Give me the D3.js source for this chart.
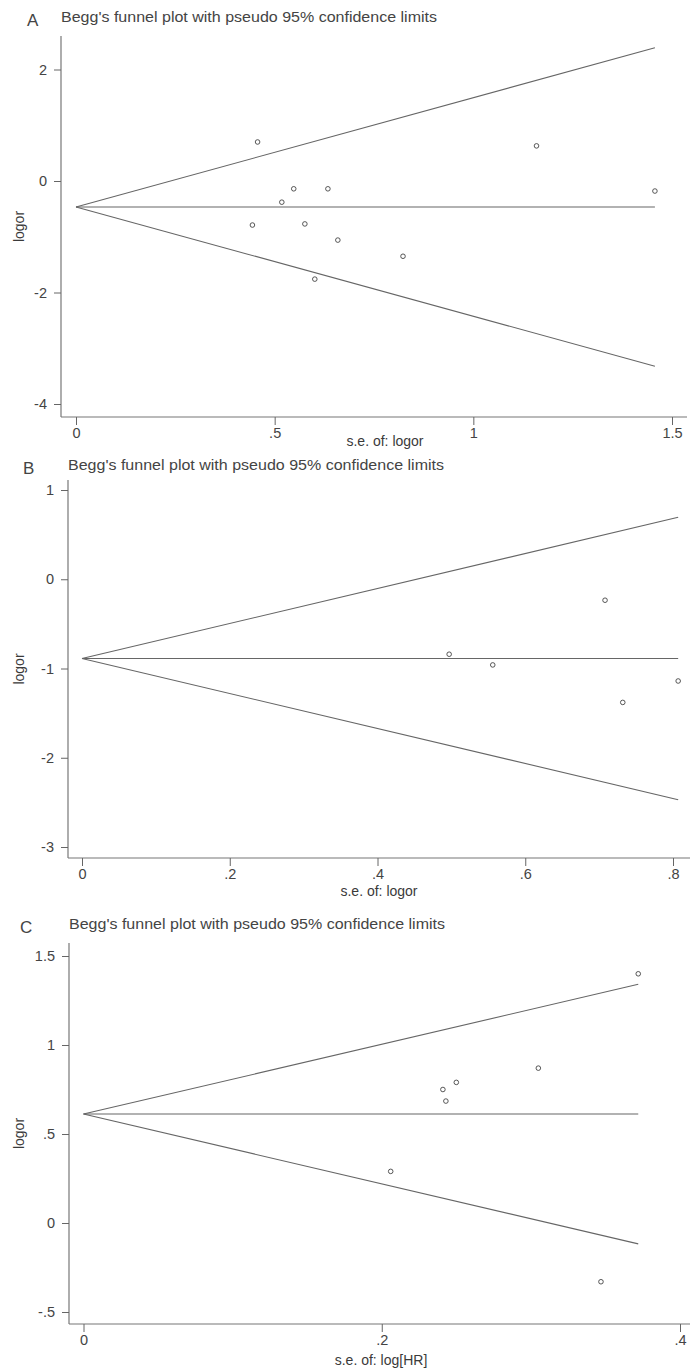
<!DOCTYPE html>
<html>
<head>
<meta charset="utf-8">
<script src="https://cdn.jsdelivr.net/npm/d3@7"></script>
<style>
  body { margin: 0; background: #fff; }
  svg text { font-family: "Liberation Sans Narrow", "Liberation Sans", Arial, sans-serif; fill: #3a3a3a; }
</style>
</head>
<body>
<div id="chart"></div>
<script>
// panel A: s.e. of logor vs logor
var seA = [0.457, 0.444, 0.548, 0.518, 0.634, 0.576, 0.601, 0.659, 0.823, 1.159, 1.457];
var logorA = [0.70, -0.79, -0.14, -0.38, -0.14, -0.77, -1.76, -1.06, -1.35, 0.63, -0.18];
var pooledA = -0.466;
var xTicksA = [0, 0.5, 1, 1.5];
var yTicksA = [-4, -2, 0, 2];

// panel B
var seB = [0.497, 0.556, 0.708, 0.732, 0.807];
var logorB = [-0.84, -0.96, -0.235, -1.38, -1.14];
var pooledB = -0.888;
var xTicksB = [0, 0.2, 0.4, 0.6, 0.8];
var yTicksB = [-3, -2, -1, 0, 1];

// panel C: s.e. of log[HR]
var seC = [0.372, 0.305, 0.250, 0.241, 0.243, 0.206, 0.347];
var logorC = [1.40, 0.87, 0.79, 0.75, 0.685, 0.29, -0.33];
var pooledC = 0.612;
var xTicksC = [0, 0.2, 0.4];
var yTicksC = [-0.5, 0, 0.5, 1, 1.5];

var title = "Begg's funnel plot with pseudo 95% confidence limits";

var svg = d3.select('#chart').append('svg')
    .attr('width', 697)
    .attr('height', 1371);

// stata style numbers: .5 instead of 0.5
var stataFmt = function(d) {
  var s = String(+d.toFixed(2));
  return s.replace(/^0\./, '.').replace(/^-0\./, '-.');
};

function drawPanel(p) {
  var x = d3.scaleLinear().domain(p.xDom).range(p.xRange);
  var y = d3.scaleLinear().domain(p.yDom).range(p.yRange);
  var g = svg.append('g');

  g.append('text').attr('x', p.letterX).attr('y', p.titleY + 4)
      .style('font-family', '"Liberation Sans", Arial, sans-serif')
      .style('font-size', '17px').style('fill', '#444').text(p.letter);
  g.append('text').attr('x', p.left).attr('y', p.titleY)
      .style('font-size', '15px').style('fill', '#444')
      .attr('textLength', 376).attr('lengthAdjust', 'spacingAndGlyphs')
      .text(title);

  // axis lines
  g.append('line').attr('x1', p.left).attr('x2', p.left)
      .attr('y1', p.top).attr('y2', p.bottom)
      .attr('stroke', '#777').attr('stroke-width', 1.2);
  g.append('line').attr('x1', p.left).attr('x2', p.right)
      .attr('y1', p.bottom).attr('y2', p.bottom)
      .attr('stroke', '#777').attr('stroke-width', 1.2);

  var ya = g.append('g').attr('transform', 'translate(' + p.left + ',0)')
      .call(d3.axisLeft(y).tickValues(p.yTicks).tickSize(7).tickPadding(7).tickFormat(stataFmt));
  var xa = g.append('g').attr('transform', 'translate(0,' + p.bottom + ')')
      .call(d3.axisBottom(x).tickValues(p.xTicks).tickSize(8).tickPadding(3).tickFormat(stataFmt));
  [ya, xa].forEach(function(a) {
    a.select('.domain').remove();
    a.selectAll('line').attr('stroke', '#666');
    a.selectAll('text').style('font-size', '14.5px').style('fill', '#444')
        .style('font-family', '"Liberation Sans Narrow", "Liberation Sans", Arial, sans-serif');
  });

  g.append('text')
      .attr('transform', 'translate(' + p.yLabelX + ',' + ((p.top + p.bottom) / 2) + ') rotate(-90)')
      .attr('text-anchor', 'middle').style('font-size', '14px').text('logor');
  g.append('text').attr('x', p.xLabelX).attr('y', p.xLabelY)
      .attr('text-anchor', 'middle').style('font-size', '14px').text(p.xLabel);

  // pseudo 95% limits
  var seMax = d3.max(p.se);
  var lines = [
    [[0, p.pooled], [seMax, p.pooled]],
    [[0, p.pooled], [seMax, p.pooled + 1.96 * seMax]],
    [[0, p.pooled], [seMax, p.pooled - 1.96 * seMax]]
  ];
  var line = d3.line().x(function(d) { return x(d[0]); }).y(function(d) { return y(d[1]); });
  g.selectAll('path.funnel').data(lines).enter().append('path')
      .attr('class', 'funnel')
      .attr('d', line)
      .attr('fill', 'none').attr('stroke', '#666').attr('stroke-width', 1.1);

  g.selectAll('circle').data(p.se).enter().append('circle')
      .attr('cx', function(d) { return x(d); })
      .attr('cy', function(d, i) { return y(p.logor[i]); })
      .attr('r', 2.3)
      .attr('fill', 'none').attr('stroke', '#444').attr('stroke-width', 0.9);
}

drawPanel({
  letter: 'A', letterX: 27, titleY: 22,
  left: 61, right: 687, top: 36, bottom: 417,
  xDom: [0, 1.5], xRange: [76, 672], yDom: [-4, 2], yRange: [404, 69.5],
  xTicks: xTicksA, yTicks: yTicksA,
  se: seA, logor: logorA, pooled: pooledA,
  yLabelX: 24, xLabelX: 385, xLabelY: 446, xLabel: 's.e. of: logor'
});

drawPanel({
  letter: 'B', letterX: 23, titleY: 470,
  left: 68, right: 690, top: 480, bottom: 858,
  xDom: [0, 0.8], xRange: [82, 673], yDom: [-3, 1], yRange: [847, 490],
  xTicks: xTicksB, yTicks: yTicksB,
  se: seB, logor: logorB, pooled: pooledB,
  yLabelX: 24, xLabelX: 379, xLabelY: 896, xLabel: 's.e. of: logor'
});

drawPanel({
  letter: 'C', letterX: 20, titleY: 929,
  left: 69, right: 690, top: 943, bottom: 1324,
  xDom: [0, 0.4], xRange: [83.5, 680], yDom: [-0.5, 1.5], yRange: [1312, 956],
  xTicks: xTicksC, yTicks: yTicksC,
  se: seC, logor: logorC, pooled: pooledC,
  yLabelX: 24, xLabelX: 381, xLabelY: 1365, xLabel: 's.e. of: log[HR]'
});
</script>
</body>
</html>
